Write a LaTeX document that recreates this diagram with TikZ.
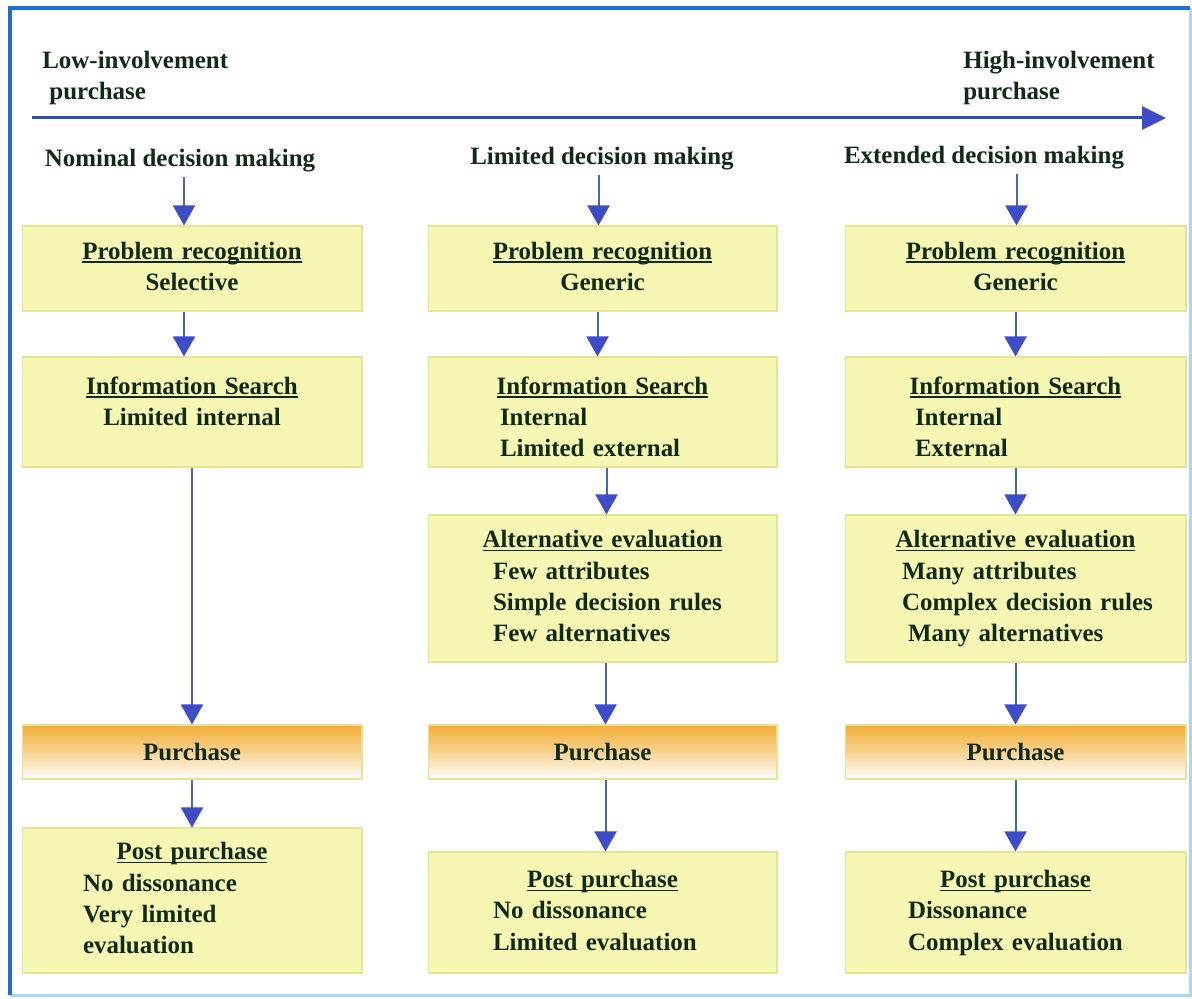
\documentclass[tikz,border=0pt]{standalone}
\usepackage{fontspec}
\setmainfont{Liberation Serif}
\usetikzlibrary{arrows.meta,calc}
\definecolor{frameblue}{HTML}{1C6FD6}
\definecolor{framelight}{HTML}{A8D8F4}
\definecolor{axisblue}{HTML}{2E4FB4}
\definecolor{flowblue}{HTML}{4866B6}
\definecolor{tipblue}{HTML}{3F4CC8}
\definecolor{inkgreen}{HTML}{0F2A16}
\definecolor{stagefill}{HTML}{F7F7B4}
\definecolor{stageedge}{HTML}{E4E492}
\definecolor{buyorange}{HTML}{F3AE36}
\newcommand{\stagehead}[1]{\makebox[\hsize]{\strut\setbox0=\hbox{#1}\rlap{\rule[-2pt]{\wd0}{0.8pt}}\box0}}
\newcommand{\stagemid}[1]{\makebox[\hsize]{\strut#1}}
\newcommand{\stageitem}[2]{\hspace*{#1}\strut#2}
\newcommand{\lowstrut}{\rule{0pt}{20.5pt}}
\tikzset{
  lbl/.style={
    font=\bfseries\fontsize{14.2pt}{17.8pt}\selectfont,
    text=inkgreen,
    inner sep=0pt
  },
  stagebox/.style={
    lbl,
    draw=stageedge,
    fill=stagefill,
    line width=0.6pt,
    align=left
  },
  buybox/.style={
    stagebox,
    align=center,
    top color=buyorange,
    bottom color=white,
    middle color=buyorange!55
  },
  flow/.style={
    -{Triangle[length=0.4cm,width=0.44cm,color=tipblue]},
    draw=flowblue,
    line width=0.04cm
  }
}

\begin{document}
\begin{tikzpicture}[x=0.02cm, y=-0.02cm]
\useasboundingbox (0,0) rectangle (1192,999);
% frame
\draw[framelight, line width=0.06cm] (10,995) -- (1190,995) -- (1190,8);
\draw[frameblue, line width=0.08cm] (1190,8) -- (10,8) -- (10,995);

% involvement axis
\node[lbl, align=left, anchor=north west] (lowinv) at (42,51) {Low-involvement\\\hspace*{4pt}purchase};
\node[lbl, align=left, anchor=north west] (highinv) at (963,51) {High-involvement\\purchase};
\coordinate (axisstart) at (32,118);
\coordinate (axisend) at (1166,118);
\draw[axisblue, line width=0.06cm, -{Triangle[length=0.48cm,width=0.46cm,color=tipblue]}] (axisstart) -- (axisend);

% nominal
\node[lbl, anchor=base] (hdrnom) at (180,167) {Nominal decision making};
\node[stagebox, text width=6.8cm, minimum height=1.7cm] (prnom) at (192,268.5)
  {\stagehead{Problem recognition}\\\stagemid{Selective}};
\node[stagebox, text width=6.8cm, minimum height=2.2cm] (isnom) at (192,412)
  {\stagehead{\lowstrut Information Search}\\\stagemid{Limited internal}\\\strut};
\node[buybox, text width=6.8cm, minimum height=1.08cm] (purnom) at (192,752) {Purchase};
\node[stagebox, text width=6.8cm, minimum height=2.9cm] (postnom) at (192,900.5)
  {\stagehead{Post purchase}\\\stageitem{1.22cm}{No dissonance}\\\stageitem{1.22cm}{Very limited}\\\stageitem{1.22cm}{evaluation}};
\draw[flow] ($(hdrnom.south -| prnom.north)+(-8,4)$) -- ($(prnom.north)+(-8,0)$);
\draw[flow] ($(prnom.south)+(-8,0)$) -- ($(isnom.north)+(-8,0)$);
\draw[flow] (isnom) -- (purnom);
\draw[flow] (purnom) -- (postnom);

% limited
\node[lbl, anchor=base] (hdrlim) at (602,165) {Limited decision making};
\node[stagebox, text width=6.98cm, minimum height=1.7cm] (prlim) at (602.5,268.5)
  {\stagehead{Problem recognition}\\\stagemid{Generic}};
\node[stagebox, text width=6.98cm, minimum height=2.2cm] (islim) at (602.5,412)
  {\stagehead{\lowstrut Information Search}\\\stageitem{1.44cm}{Internal}\\\stageitem{1.44cm}{Limited external}};
\node[stagebox, text width=6.98cm, minimum height=2.94cm] (aelim) at (602.5,588.5)
  {\stagehead{Alternative evaluation}\\\stageitem{1.3cm}{Few attributes}\\\stageitem{1.3cm}{Simple decision rules}\\\stageitem{1.3cm}{Few alternatives}};
\node[buybox, text width=6.98cm, minimum height=1.08cm] (purlim) at (602.5,752) {Purchase};
\node[stagebox, text width=6.98cm, minimum height=2.42cm] (postlim) at (602.5,912.5)
  {\stagehead{Post purchase}\\\stageitem{1.3cm}{No dissonance}\\\stageitem{1.3cm}{Limited evaluation}};
\draw[flow] ($(hdrlim.south -| prlim.north)+(-4,4)$) -- ($(prlim.north)+(-4,0)$);
\draw[flow] ($(prlim.south)+(-5,0)$) -- ($(islim.north)+(-5,0)$);
\draw[flow] ($(islim.south)+(4,0)$) -- ($(aelim.north)+(4,0)$);
\draw[flow] ($(aelim.south)+(3,0)$) -- ($(purlim.north)+(3,0)$);
\draw[flow] ($(purlim.south)+(3,0)$) -- ($(postlim.north)+(3,0)$);

% extended
\node[lbl, anchor=base] (hdrext) at (984,164) {Extended decision making};
\node[stagebox, text width=6.82cm, minimum height=1.7cm] (prext) at (1015.5,268.5)
  {\stagehead{Problem recognition}\\\stagemid{Generic}};
\node[stagebox, text width=6.82cm, minimum height=2.2cm] (isext) at (1015.5,412)
  {\stagehead{\lowstrut Information Search}\\\stageitem{1.4cm}{Internal}\\\stageitem{1.4cm}{External}};
\node[stagebox, text width=6.82cm, minimum height=2.94cm] (aeext) at (1015.5,588.5)
  {\stagehead{Alternative evaluation}\\\stageitem{1.14cm}{Many attributes}\\\stageitem{1.14cm}{Complex decision rules}\\\stageitem{1.26cm}{Many alternatives}};
\node[buybox, text width=6.82cm, minimum height=1.08cm] (purext) at (1015.5,752) {Purchase};
\node[stagebox, text width=6.82cm, minimum height=2.42cm] (postext) at (1015.5,912.5)
  {\stagehead{Post purchase}\\\stageitem{1.26cm}{Dissonance}\\\stageitem{1.26cm}{Complex evaluation}};
\draw[flow] ($(hdrext.south -| prext.north)+(1,4)$) -- ($(prext.north)+(1,0)$);
\draw[flow] (prext) -- (isext);
\draw[flow] (isext) -- (aeext);
\draw[flow] (aeext) -- (purext);
\draw[flow] (purext) -- (postext);
\end{tikzpicture}
\end{document}
